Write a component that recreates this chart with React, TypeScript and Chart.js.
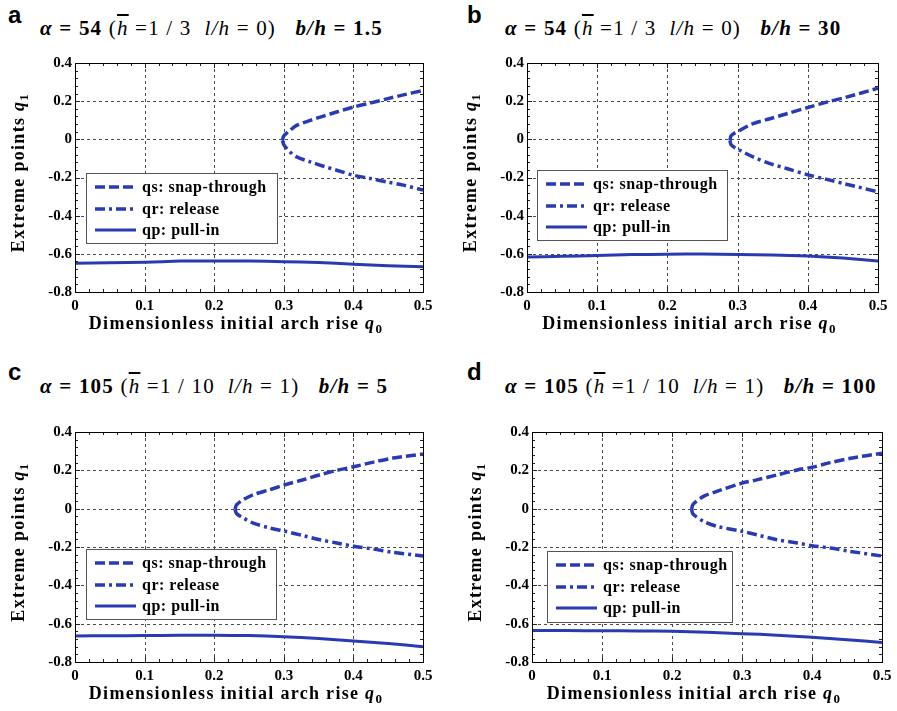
import React, { useEffect, useRef } from 'react';
import { Chart, registerables } from 'chart.js';

Chart.register(...registerables);

// ---------- data ----------
const xTickValues = [0, 0.1, 0.2, 0.3, 0.4, 0.5];
const xTickLabels = ['0', '0.1', '0.2', '0.3', '0.4', '0.5'];
const yTickValues = [-0.8, -0.6, -0.4, -0.2, 0, 0.2, 0.4];
const yTickLabels = ['-0.8', '-0.6', '-0.4', '-0.2', '0', '0.2', '0.4'];

const seriesLabels = ['qs: snap-through', 'qr: release', 'qp: pull-in'];

const pullInQ0 = [0, 0.05, 0.1, 0.15, 0.2, 0.25, 0.3, 0.35, 0.4, 0.45, 0.5];
const pullInA = [-0.649, -0.647, -0.644, -0.638, -0.637, -0.638, -0.641, -0.645, -0.654, -0.662, -0.668];
const pullInB = [-0.617, -0.613, -0.609, -0.604, -0.602, -0.601, -0.603, -0.606, -0.612, -0.622, -0.637];
const pullInC = [-0.664, -0.663, -0.662, -0.661, -0.661, -0.662, -0.668, -0.677, -0.69, -0.704, -0.72];
const pullInD = [-0.636, -0.636, -0.637, -0.638, -0.639, -0.645, -0.652, -0.66, -0.671, -0.684, -0.698];

const branchQ0A = [0.298, 0.3, 0.309, 0.3185, 0.338, 0.357, 0.376, 0.4, 0.424, 0.448, 0.472, 0.5];
const snapA = [-0.005, 0.018, 0.047, 0.073, 0.099, 0.122, 0.143, 0.169, 0.19, 0.212, 0.233, 0.256];
const releaseA = [-0.005, -0.028, -0.066, -0.092, -0.118, -0.141, -0.162, -0.188, -0.205, -0.223, -0.24, -0.266];

const branchQ0B = [0.289, 0.291, 0.303, 0.322, 0.346, 0.37, 0.402, 0.427, 0.455, 0.5];
const snapB = [-0.005, 0.02, 0.047, 0.082, 0.108, 0.134, 0.169, 0.195, 0.221, 0.268];
const releaseB = [-0.005, -0.03, -0.057, -0.092, -0.127, -0.153, -0.188, -0.21, -0.235, -0.275];

const branchQ0C = [0.23, 0.232, 0.242, 0.256, 0.28, 0.302, 0.328, 0.352, 0.376, 0.402, 0.429, 0.457, 0.5];
const snapC = [-0.003, 0.02, 0.047, 0.073, 0.099, 0.125, 0.151, 0.177, 0.2, 0.22, 0.243, 0.264, 0.285];
const releaseC = [-0.003, -0.025, -0.049, -0.075, -0.101, -0.118, -0.141, -0.162, -0.179, -0.197, -0.211, -0.228, -0.247];

const branchQ0D = [0.228, 0.23, 0.245, 0.264, 0.3, 0.321, 0.35, 0.379, 0.4, 0.426, 0.455, 0.5];
const snapD = [-0.003, 0.022, 0.064, 0.09, 0.133, 0.15, 0.176, 0.202, 0.216, 0.24, 0.263, 0.289];
const releaseD = [-0.003, -0.028, -0.066, -0.092, -0.118, -0.136, -0.162, -0.179, -0.193, -0.205, -0.223, -0.247];

const panelLetters = ['a', 'b', 'c', 'd'];
const alphaValues = ['54', '54', '105', '105'];
const hbarValues = ['1 / 3', '1 / 3', '1 / 10', '1 / 10'];
const lhValues = ['0', '0', '1', '1'];
const bhValues = ['1.5', '30', '5', '100'];

// ---------- style / layout ----------
const BLUE = '#2a3bb2';
const SERIF = '"Liberation Serif", "Times New Roman", serif';
const PAD_L = 75;
const PAD_T = 20;
const PAD_R = 15;
const PAD_B = 55;

type Rect = { l: number; t: number; r: number; b: number };
type LegendPos = { dx: number; dy: number; w: number; h: number };

type Seg = { t: string; italic?: boolean; sub?: boolean };

function setSpacing(ctx: any, v: string) {
  if ('letterSpacing' in ctx) ctx.letterSpacing = v;
}

function drawRich(ctx: CanvasRenderingContext2D, segs: Seg[], cx: number, cy: number) {
  const fontFor = (s: Seg) =>
    `${s.italic ? 'italic ' : ''}bold ${s.sub ? 13 : 18}px ${SERIF}`;
  setSpacing(ctx, '1.3px');
  let total = 0;
  const widths = segs.map((s) => {
    ctx.font = fontFor(s);
    const w = ctx.measureText(s.t).width;
    total += w;
    return w;
  });
  let x = cx - total / 2;
  ctx.fillStyle = '#000';
  ctx.textBaseline = 'alphabetic';
  ctx.textAlign = 'left';
  segs.forEach((s, i) => {
    ctx.font = fontFor(s);
    ctx.fillText(s.t, x, cy + 6 + (s.sub ? 4 : 0));
    x += widths[i];
  });
  setSpacing(ctx, '0px');
}

function makePlugin(legend: LegendPos) {
  return {
    id: 'matlabFrame',
    beforeDatasetsDraw(chart: any) {
      const { ctx, chartArea: a, scales } = chart;
      const xs = scales.x;
      const ys = scales.y;
      ctx.save();
      ctx.strokeStyle = '#4a4a4a';
      ctx.lineWidth = 1;
      ctx.setLineDash([3, 3]);
      xTickValues.forEach((v) => {
        if (v <= 0 || v >= 0.5) return;
        const px = Math.round(xs.getPixelForValue(v)) + 0.5;
        ctx.beginPath();
        ctx.moveTo(px, a.top);
        ctx.lineTo(px, a.bottom);
        ctx.stroke();
      });
      yTickValues.forEach((v) => {
        if (v <= -0.8 || v >= 0.4) return;
        const py = Math.round(ys.getPixelForValue(v)) + 0.5;
        ctx.beginPath();
        ctx.moveTo(a.left, py);
        ctx.lineTo(a.right, py);
        ctx.stroke();
      });
      ctx.setLineDash([]);
      ctx.strokeStyle = '#222';
      for (let i = 1; i < 25; i++) {
        const len = i % 5 === 0 ? 5 : 3;
        const px = Math.round(xs.getPixelForValue(i * 0.02)) + 0.5;
        ctx.beginPath();
        ctx.moveTo(px, a.bottom);
        ctx.lineTo(px, a.bottom - len);
        ctx.moveTo(px, a.top);
        ctx.lineTo(px, a.top + len);
        ctx.stroke();
      }
      for (let i = 1; i < 30; i++) {
        const len = i % 5 === 0 ? 5 : 3;
        const py = Math.round(ys.getPixelForValue(-0.8 + i * 0.04)) + 0.5;
        ctx.beginPath();
        ctx.moveTo(a.left, py);
        ctx.lineTo(a.left + len, py);
        ctx.moveTo(a.right, py);
        ctx.lineTo(a.right - len, py);
        ctx.stroke();
      }
      ctx.restore();
    },
    afterDatasetsDraw(chart: any) {
      const { ctx, chartArea: a } = chart;
      ctx.save();
      ctx.strokeStyle = '#000';
      ctx.lineWidth = 1;
      ctx.setLineDash([]);
      ctx.strokeRect(Math.round(a.left) + 0.5, Math.round(a.top) + 0.5, Math.round(a.right - a.left), Math.round(a.bottom - a.top));
      const lx = Math.round(a.left + legend.dx);
      const ly = Math.round(a.top + legend.dy);
      ctx.fillStyle = '#fff';
      ctx.fillRect(lx, ly, legend.w, legend.h);
      ctx.strokeStyle = '#555';
      ctx.strokeRect(lx + 0.5, ly + 0.5, legend.w, legend.h);
      const rows = [14, 36, 57];
      chart.data.datasets.forEach((ds: any, i: number) => {
        const ry = ly + rows[i];
        ctx.beginPath();
        ctx.setLineDash(ds.borderDash || []);
        ctx.strokeStyle = ds.borderColor;
        ctx.lineWidth = ds.borderWidth;
        ctx.moveTo(lx + 9, ry);
        ctx.lineTo(lx + 50, ry);
        ctx.stroke();
        ctx.setLineDash([]);
        ctx.fillStyle = '#000';
        ctx.font = `bold 16px ${SERIF}`;
        setSpacing(ctx, '0.5px');
        ctx.textBaseline = 'middle';
        ctx.textAlign = 'left';
        ctx.fillText(ds.label, lx + 56, ry + 1);
        setSpacing(ctx, '0px');
      });
      ctx.restore();
    },
    afterDraw(chart: any) {
      const { ctx, chartArea: a } = chart;
      ctx.save();
      drawRich(
        ctx,
        [{ t: 'Dimensionless initial arch rise ' }, { t: 'q', italic: true }, { t: '0', sub: true }],
        (a.left + a.right) / 2 - 13,
        a.bottom + 31
      );
      ctx.translate(a.left - 57, (a.top + a.bottom) / 2 - 5);
      ctx.rotate(-Math.PI / 2);
      drawRich(ctx, [{ t: 'Extreme points ' }, { t: 'q', italic: true }, { t: '1', sub: true }], 0, 0);
      ctx.restore();
    },
  };
}

type PanelProps = {
  idx: number;
  rect: Rect;
  q0: number[];
  snap: number[];
  release: number[];
  pull: number[];
  legend: LegendPos;
  titleLeft: number;
  titleTop: number;
  letterLeft: number;
  letterTop: number;
};

function Panel(p: PanelProps) {
  const ref = useRef<HTMLCanvasElement>(null);
  const w = p.rect.r - p.rect.l + PAD_L + PAD_R;
  const h = p.rect.b - p.rect.t + PAD_T + PAD_B;

  useEffect(() => {
    const tickFont = { family: SERIF, weight: 'bold' as const, size: 15 };
    const chart = new Chart(ref.current as HTMLCanvasElement, {
      type: 'line',
      data: {
        datasets: [
          {
            label: seriesLabels[0],
            data: p.q0.map((x, i) => ({ x, y: p.snap[i] })),
            borderColor: BLUE,
            borderWidth: 3.5,
            borderDash: [10, 4],
            pointRadius: 0,
            tension: 0.3,
            fill: false,
          },
          {
            label: seriesLabels[1],
            data: p.q0.map((x, i) => ({ x, y: p.release[i] })),
            borderColor: BLUE,
            borderWidth: 3.5,
            borderDash: [10, 4, 3, 4],
            pointRadius: 0,
            tension: 0.3,
            fill: false,
          },
          {
            label: seriesLabels[2],
            data: pullInQ0.map((x, i) => ({ x, y: p.pull[i] })),
            borderColor: BLUE,
            borderWidth: 3,
            pointRadius: 0,
            tension: 0.2,
            fill: false,
          },
        ],
      },
      options: {
        responsive: false,
        animation: false,
        devicePixelRatio: 1,
        layout: { padding: { left: 0, top: PAD_T, right: PAD_R, bottom: 0 } },
        plugins: { legend: { display: false }, tooltip: { enabled: false }, title: { display: false } },
        scales: {
          x: {
            type: 'linear',
            min: 0,
            max: 0.5,
            grid: { display: false, drawTicks: false },
            border: { display: false },
            afterBuildTicks: (s: any) => {
              s.ticks = xTickValues.map((v) => ({ value: v }));
            },
            afterFit: (s: any) => {
              s.height = PAD_B;
            },
            ticks: {
              autoSkip: false,
              maxRotation: 0,
              padding: 5,
              color: '#000',
              font: tickFont,
              callback: (_v: any, i: number) => xTickLabels[i],
            },
          },
          y: {
            type: 'linear',
            min: -0.8,
            max: 0.4,
            grid: { display: false, drawTicks: false },
            border: { display: false },
            afterBuildTicks: (s: any) => {
              s.ticks = yTickValues.map((v) => ({ value: v }));
            },
            afterFit: (s: any) => {
              s.width = PAD_L;
            },
            ticks: {
              autoSkip: false,
              padding: 3,
              color: '#000',
              font: tickFont,
              callback: (_v: any, i: number) => yTickLabels[i],
            },
          },
        },
      } as any,
      plugins: [makePlugin(p.legend)],
    });
    return () => chart.destroy();
  }, []);

  const i = p.idx;
  return (
    <>
      <div
        style={{
          position: 'absolute',
          left: p.letterLeft,
          top: p.letterTop,
          font: 'bold 24px "Liberation Sans", Arial, sans-serif',
          lineHeight: '28px',
          color: '#000',
        }}
      >
        {panelLetters[i]}
      </div>
      <div
        style={{
          position: 'absolute',
          left: p.titleLeft,
          top: p.titleTop,
          font: `21px ${SERIF}`,
          lineHeight: '24px',
          letterSpacing: '1.2px',
          whiteSpace: 'pre',
          color: '#000',
        }}
      >
        <b><i>α</i> = {alphaValues[i]}</b> (<i style={{ textDecoration: 'overline' }}>h</i> ={hbarValues[i]}  <i>l/h</i> = {lhValues[i]})   <b><i>b/h</i> = {bhValues[i]}</b>
      </div>
      <canvas
        ref={ref}
        width={w}
        height={h}
        style={{ position: 'absolute', left: p.rect.l - PAD_L, top: p.rect.t - PAD_T, width: w, height: h }}
      />
    </>
  );
}

export default function App() {
  return (
    <div style={{ position: 'absolute', left: 0, top: 0, width: 897, height: 711, background: '#fff', overflow: 'hidden' }}>
      <Panel
        idx={0}
        rect={{ l: 75, t: 63, r: 423, b: 292 }}
        q0={branchQ0A}
        snap={snapA}
        release={releaseA}
        pull={pullInA}
        legend={{ dx: 11, dy: 110, w: 191, h: 70 }}
        titleLeft={40}
        titleTop={16}
        letterLeft={8}
        letterTop={1}
      />
      <Panel
        idx={1}
        rect={{ l: 527, t: 63, r: 878, b: 292 }}
        q0={branchQ0B}
        snap={snapB}
        release={releaseB}
        pull={pullInB}
        legend={{ dx: 10, dy: 107, w: 190, h: 70 }}
        titleLeft={505}
        titleTop={16}
        letterLeft={467}
        letterTop={1}
      />
      <Panel
        idx={2}
        rect={{ l: 75, t: 432, r: 423, b: 662 }}
        q0={branchQ0C}
        snap={snapC}
        release={releaseC}
        pull={pullInC}
        legend={{ dx: 11, dy: 117, w: 190, h: 70 }}
        titleLeft={40}
        titleTop={374}
        letterLeft={8}
        letterTop={358}
      />
      <Panel
        idx={3}
        rect={{ l: 532, t: 432, r: 882, b: 662 }}
        q0={branchQ0D}
        snap={snapD}
        release={releaseD}
        pull={pullInD}
        legend={{ dx: 15, dy: 119, w: 185, h: 71 }}
        titleLeft={505}
        titleTop={374}
        letterLeft={467}
        letterTop={358}
      />
    </div>
  );
}
